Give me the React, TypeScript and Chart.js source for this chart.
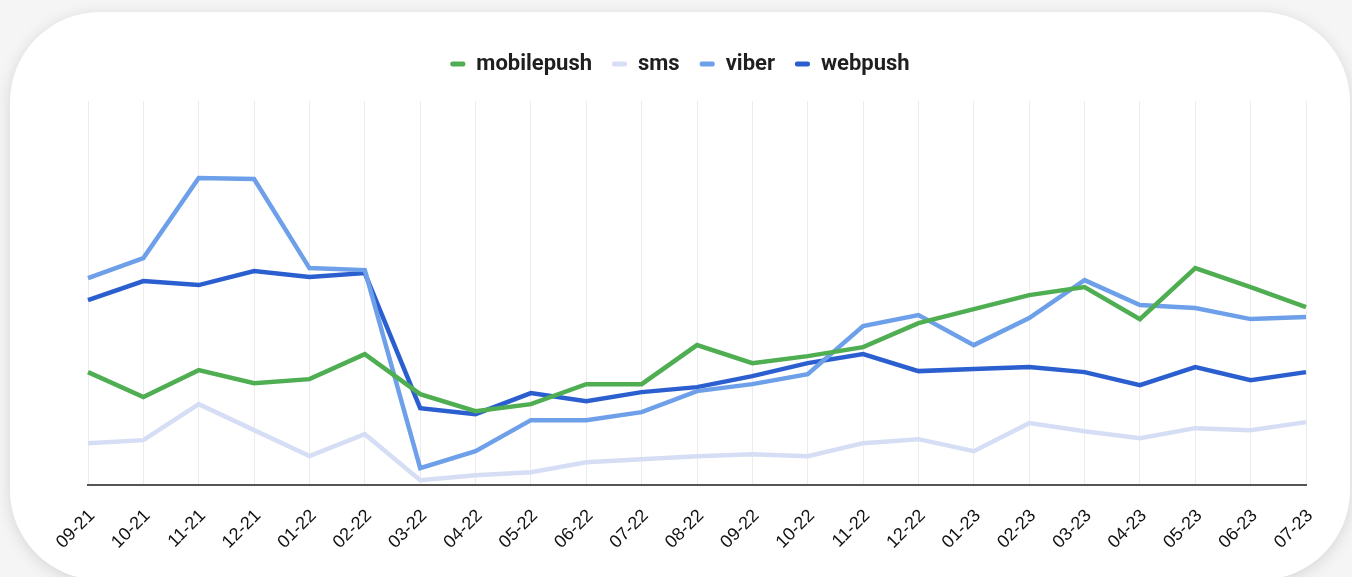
import React, { useEffect, useRef } from "react";
import { Chart, registerables } from "chart.js";

Chart.register(...registerables);

const categories = ["09-21","10-21","11-21","12-21","01-22","02-22","03-22","04-22","05-22","06-22","07-22","08-22","09-22","10-22","11-22","12-22","01-23","02-23","03-23","04-23","05-23","06-23","07-23"];
const mobilepush = [113, 88, 115, 102, 106, 131, 91, 74, 81, 101, 101, 140, 122, 129, 138, 162, 176, 190, 198, 166, 217, 198, 178];
const sms = [42, 45, 81, 55, 29, 51, 5, 10, 13, 23, 26, 29, 31, 29, 42, 46, 34, 62, 54, 47, 57, 55, 63];
const viber = [207, 227, 307, 306, 217, 215, 17, 34, 65, 65, 73, 94, 101, 111, 159, 170, 140, 167, 205, 180, 177, 166, 168];
const webpush = [185, 204, 200, 214, 208, 212, 77, 71, 92, 84, 93, 98, 109, 122, 131, 114, 116, 118, 113, 100, 118, 105, 113];

const seriesNames = ["mobilepush", "sms", "viber", "webpush"];
const seriesColors = ["#4fae52", "#d5def5", "#6ea0ea", "#2b5fd0"];

const legendTweak = {
  id: "legendTweak",
  beforeInit(chart: any) {
    const orig = chart.legend.fit;
    chart.legend.fit = function () {
      orig.bind(chart.legend)();
      this.height += 16;
    };
  },
  afterLayout(chart: any) {
    chart.legend.left -= 17;
    chart.legend.right -= 17;
  },
};

export default function App() {
  const ref = useRef<HTMLCanvasElement | null>(null);
  useEffect(() => {
    document.body.style.margin = "0";
    const values = [mobilepush, sms, viber, webpush];
    const chart = new Chart(ref.current!, {
      type: "line",
      data: {
        labels: categories,
        datasets: seriesNames.map((n, i) => ({
          label: n,
          data: values[i],
          borderColor: seriesColors[i],
          backgroundColor: seriesColors[i],
          borderWidth: 4.5,
          pointRadius: 0,
          pointHoverRadius: 0,
          tension: 0,
          fill: false,
        })),
      },
      plugins: [legendTweak],
      options: {
        animation: false,
        responsive: false,
        maintainAspectRatio: false,
        layout: { padding: { left: 88, right: 46, top: 33, bottom: 4 } },
        plugins: {
          tooltip: { enabled: false },
          legend: {
            position: "top",
            align: "center",
            labels: {
              boxWidth: 15,
              boxHeight: 5,
              padding: 20,
              useBorderRadius: true,
              borderRadius: 2,
              color: "#1f1f1f",
              font: { family: "Roboto", size: 22, weight: "bold" },
              generateLabels: (c: any) =>
                (Chart.defaults.plugins.legend.labels.generateLabels as any)(c).map((l: any) => ({
                  ...l,
                  lineWidth: 0,
                  strokeStyle: "rgba(0,0,0,0)",
                })),
            },
          },
        },
        scales: {
          x: {
            offset: false,
            grid: { display: true, color: "#ececec", lineWidth: 1, drawTicks: false },
            border: { display: true, color: "#555555", width: 2 },
            ticks: {
              minRotation: 45,
              maxRotation: 45,
              autoSkip: false,
              padding: 20,
              labelOffset: 4,
              color: "#111111",
              font: { family: "Liberation Sans", size: 18 },
            },
          },
          y: {
            display: false,
            min: 0,
            max: 384,
          },
        },
      },
    });
    return () => chart.destroy();
  }, []);

  return (
    <div style={{ position: "fixed", left: 0, top: 0, width: 1352, height: 577, background: "#f5f5f5", overflow: "hidden" }}>
      <div
        style={{
          position: "absolute",
          left: 10,
          top: 12,
          width: 1340,
          height: 568,
          background: "#ffffff",
          borderRadius: 90,
          boxShadow: "0 3px 16px rgba(0,0,0,0.13)",
        }}
      />
      <canvas ref={ref} width={1352} height={577} style={{ position: "absolute", left: 0, top: 0, width: 1352, height: 577 }} />
    </div>
  );
}
